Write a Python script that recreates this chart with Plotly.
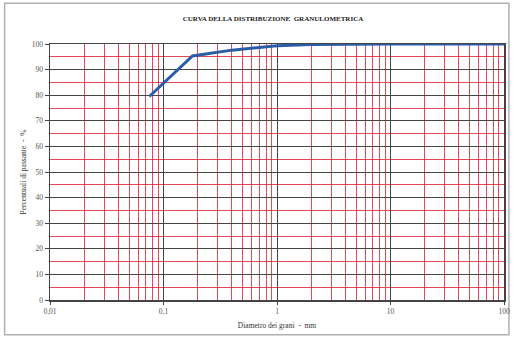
import plotly.graph_objects as go

diametro_mm = [0.075, 0.18, 0.4, 1.0, 2.0, 5.0, 10.0, 20.0, 50.0, 100.0]
passante_pct = [79.5, 95.3, 97.6, 99.3, 99.8, 100.0, 100.0, 100.0, 100.0, 100.0]

title_text = "CURVA DELLA DISTRIBUZIONE  GRANULOMETRICA"
x_label = "Diametro dei grani  -  mm"
y_label = "Percentuali di passante  -  %"

W, H = 519, 338
L, R, T, B = 50, 9, 44, 37
pw, ph = W - L - R, H - T - B

def px2paper_x(px):
    return (px - L) / pw

def px2paper_y(py):
    return (H - B - py) / ph

fig = go.Figure()
fig.add_trace(go.Scatter(
    x=diametro_mm, y=passante_pct, mode="lines",
    line=dict(color="#2b5ca8", width=3),
    showlegend=False, hoverinfo="skip",
))

serif = "Liberation Serif, Times New Roman, serif"
dark = "#444444"
red = "rgba(225,40,60,0.85)"

fig.update_layout(
    width=W, height=H,
    margin=dict(l=L, r=R, t=T, b=B),
    paper_bgcolor="white", plot_bgcolor="white",
    separators=",.",
    title=dict(text="<b>" + title_text + "</b>", x=273 / W, xref="container", xanchor="center",
               y=1 - 19 / H, yanchor="middle",
               font=dict(family=serif, size=7, color="#222")),
    font=dict(family=serif, size=7.5, color="#555"),
    xaxis=dict(
        type="log", range=[-2, 2], dtick=1,
        showgrid=True, gridcolor=dark, gridwidth=1,
        minor=dict(dtick="D1", showgrid=True, gridcolor=red, gridwidth=1, ticks=""),
        showline=True, linecolor=dark, linewidth=1.5, mirror=True,
        ticks="outside", ticklen=3, tickcolor=dark,
        zeroline=False,
        title=dict(text=x_label, font=dict(family=serif, size=7.5, color="#333"), standoff=8),
    ),
    yaxis=dict(
        range=[0, 100], dtick=10,
        showgrid=True, gridcolor=dark, gridwidth=1,
        minor=dict(dtick=5, showgrid=True, gridcolor=red, gridwidth=1, ticks=""),
        showline=True, linecolor=dark, linewidth=1.5, mirror=True,
        ticks="outside", ticklen=4, tickcolor=dark,
        zeroline=False,
        title=dict(text=y_label, font=dict(family=serif, size=7.5, color="#333"), standoff=4),
    ),
    shapes=[dict(type="rect", xref="paper", yref="paper", layer="below",
                 x0=px2paper_x(4), x1=px2paper_x(515),
                 y0=px2paper_y(336), y1=px2paper_y(3),
                 line=dict(color="#b0b0b0", width=1.5))],
)

fig.write_html("out.html", config={"displayModeBar": False, "staticPlot": True},
               post_script="document.body.style.margin='0';document.body.style.overflow='hidden';")
